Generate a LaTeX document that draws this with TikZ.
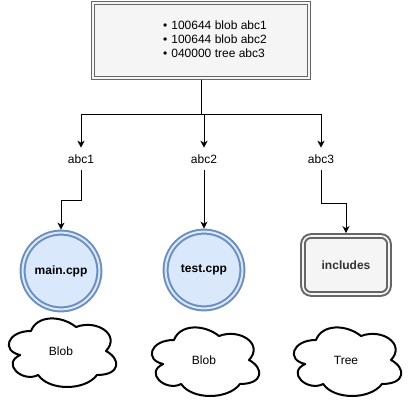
\documentclass[tikz,border=0pt]{standalone}
\usepackage{fontspec}
\setmainfont{Liberation Sans}
\usetikzlibrary{arrows.meta,calc}
\definecolor{boxfill}{HTML}{F5F5F5}
\definecolor{boxline}{HTML}{666666}
\definecolor{bluefill}{HTML}{DAE8FC}
\definecolor{blueline}{HTML}{6C8EBF}
\definecolor{darktext}{HTML}{333333}
\newcommand\drawcloudat[1]{%
  \draw[cloudline, shift={(#1.center)}, x=90pt, y=-60pt]
    (-0.25,-0.25) .. controls (-0.45,-0.25) and (-0.5,0) .. (-0.34,0.05)
    .. controls (-0.5,0.16) and (-0.32,0.4) .. (-0.19,0.3)
    .. controls (-0.1,0.5) and (0.2,0.5) .. (0.3,0.3)
    .. controls (0.5,0.3) and (0.5,0.1) .. (0.375,0)
    .. controls (0.5,-0.2) and (0.3,-0.4) .. (0.125,-0.3)
    .. controls (0,-0.45) and (-0.2,-0.45) .. (-0.25,-0.25) -- cycle;}
\begin{document}
\begin{tikzpicture}[x=0.75pt,y=-0.75pt,
  every node/.style={font=\fontsize{9}{10.5}\selectfont},
  arr/.style={draw=black, line width=0.75pt, -{Stealth[length=5.25pt,width=5.25pt,inset=1.5pt]}},
  topbox/.style={draw=boxline, fill=boxfill, double=boxfill, double distance=1pt, line width=0.8pt,
    minimum width=162pt, minimum height=56.25pt, inner sep=0pt, outer sep=1.3pt},
  listtext/.style={align=left, inner sep=0pt, font=\fontsize{9}{10.5}\selectfont},
  lab/.style={minimum height=16.5pt, inner sep=0pt},
  circ/.style={circle, draw=blueline, fill=bluefill, double=bluefill, line width=1.5pt,
    double distance=1.5pt, minimum size=57.6pt, inner sep=0pt, outer sep=2.25pt,
    font=\fontsize{9}{10.5}\selectfont\bfseries},
  rbox/.style={rounded corners=6pt, draw=boxline, fill=boxfill, double=boxfill, line width=1.5pt,
    double distance=1.2pt, minimum width=64.5pt, minimum height=43.5pt, inner sep=0pt,
    outer sep=2.1pt, text=darktext, font=\fontsize{9}{10.5}\selectfont\bfseries},
  cloudtext/.style={inner sep=0pt},
  cloudline/.style={draw=black, line width=1.5pt, line join=round}
]
\useasboundingbox (0,0) rectangle (408,402);

\node[topbox] (files) at (201,40.5) {};
\node[listtext] (list) at (215,39) {\textbullet\hspace{3pt}100644 blob abc1\\
\textbullet\hspace{3pt}100644 blob abc2\\
\textbullet\hspace{3pt}040000 tree abc3};

\node[lab] (l1) at (81,159) {abc1};
\node[lab] (l2) at (204,159) {abc2};
\node[lab] (l3) at (321,159) {abc3};

\node[circ] (c1) at (61,271) {main.cpp};
\node[circ] (c2) at (204,270) {test.cpp};
\node[rbox] (r3) at (346,265) {includes};

\node[cloudtext] (k1) at (61,351) {Blob};
\node[cloudtext] (k2) at (204,360) {Blob};
\node[cloudtext] (k3) at (346,360) {Tree};
\drawcloudat{k1}
\drawcloudat{k2}
\drawcloudat{k3}

\draw[arr] (files.south) -- ++(0,35) -| (l1.north);
\draw[arr] (files.south) -- ++(0,35) -| (l2.north);
\draw[arr] (files.south) -- ++(0,35) -| (l3.north);

\draw[arr] (l1.south) -- ++(0,30) -| (c1.north);
\draw[arr] (l2.south) -- (c2.north);
\draw[arr] (l3.south) -- ++(0,33) -| (r3.north);
\end{tikzpicture}
\end{document}
